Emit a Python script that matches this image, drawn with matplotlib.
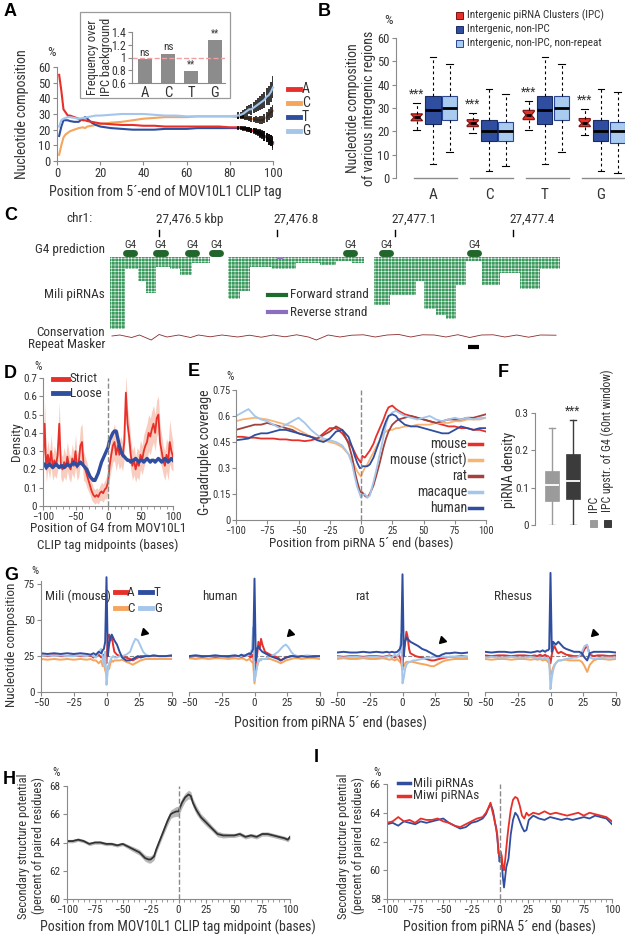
import matplotlib

matplotlib.use("Agg")
import matplotlib.pyplot as plt
import numpy as np
from matplotlib.lines import Line2D
from matplotlib.patches import Rectangle
from matplotlib.ticker import MultipleLocator

plt.rcParams['font.family'] = ['Roboto Condensed', 'Archivo Narrow', 'Liberation Sans', 'DejaVu Sans']
plt.rcParams['hatch.linewidth'] = 0.35

W, H = 625, 935
RED, ORANGE, DBLUE, LBLUE, BROWN = '#e8302a', '#f5a55c', '#2f4ea0', '#a4c6ea', '#a2423c'
GRAY, TXT = '#8a8a8a', '#333333'

# ---------------- data ----------------
# A: nucleotide composition along CLIP tag
a_pos = [1, 2, 3, 4, 5, 6, 8, 10, 12, 13, 14, 16, 18, 20, 25, 30, 35, 40, 45, 50, 55, 60, 65, 70, 75, 80,
         84, 85, 86, 87, 88, 89, 90, 91, 92, 93, 94, 95, 96, 97, 98, 99, 100]
a_A = [55, 45, 33, 31, 29, 29, 28, 27, 26, 26, 25.5, 25, 24.5, 24, 23.5, 23, 23, 22.5, 22.5, 22, 22, 22, 22, 22, 22, 21.5,
       21.5, 21.5, 21, 21, 20.5, 20, 19.5, 19, 18.5, 18, 17, 16.5, 16, 15, 14, 13, 11]
a_C = [4, 10, 15, 17, 18, 19, 20, 21, 21.5, 21, 22, 22.5, 23, 23.5, 24.5, 25, 26, 27, 27.5, 28, 28, 28, 28.5, 28.5, 28.5, 28.5,
       28, 28, 28, 27.5, 27.5, 27, 27, 26.5, 26.5, 26, 26, 26, 27, 28, 29.5, 31, 32]
a_T = [16, 22, 26, 26, 26, 25.5, 25, 25, 27, 28, 27, 24.5, 23, 22, 21, 20.5, 20, 20, 20, 20.5, 20.5, 20.5, 21, 21, 21, 21,
       21, 21, 20.5, 20.5, 20, 20, 19.5, 19.5, 19, 18.5, 18, 17, 16, 15, 14, 13, 12]
a_G = [22, 26, 27, 27.5, 28, 28, 27.5, 27, 27.5, 27.5, 28, 28.5, 29, 29, 29.5, 30, 30, 30, 29.5, 29, 29, 28.5, 28.5, 28.5, 28.5, 28.5,
       29, 29.5, 30, 31, 32, 33, 33, 34, 35, 36, 37, 38, 39, 41, 42, 44, 47]
a_err_G = [2, 2, 2.5, 2.5, 3, 3, 3.5, 3.5, 4, 4, 4.5, 5, 5, 5.5, 6, 6.5, 7]
a_err = [1, 1, 1.2, 1.2, 1.5, 1.5, 1.8, 1.8, 2, 2, 2.5, 2.5, 3, 3, 3.5, 3.5, 4]
inset_labels = ['A', 'C', 'T', 'G']
inset_vals = [0.98, 1.06, 0.79, 1.28]
inset_sig = ['ns', 'ns', '**', '**']

# B: box statistics per nucleotide group
b_groups = ['A', 'C', 'T', 'G']
ipc_lo, ipc_q1, ipc_med, ipc_q3, ipc_hi = [20.5, 19.5, 20.5, 18.5], [24.5, 22, 25, 22], [26, 23.5, 27, 23.5], [27.5, 25, 29, 25.5], [32, 28, 33, 29.5]
ipc_notch = [1.3, 1.0, 1.5, 1.2]
non_lo, non_q1, non_med, non_q3, non_hi = [6, 3, 6, 3], [23, 16, 23, 16], [29, 20, 29, 20], [35, 25, 35, 25], [52, 38, 52, 38]
nrp_lo, nrp_q1, nrp_med, nrp_q3, nrp_hi = [11, 5, 11, 2], [25, 16, 25, 15], [30, 20, 30, 20], [35, 24, 35, 24], [49, 36, 49, 37]
b_legend = ['Intergenic piRNA Clusters (IPC)', 'Intergenic, non-IPC', 'Intergenic, non-IPC, non-repeat']

# C: genome browser track (kbp)
c_ticks = [27476.5, 27476.8, 27477.1, 27477.4]
c_ticklabels = ['27,476.5 kbp', '27,476.8', '27,477.1', '27,477.4']
g4_pos = [27476.426, 27476.503, 27476.584, 27476.645, 27476.986, 27477.077, 27477.301]
read_start = [27476.375, 27476.414, 27476.447, 27476.467, 27476.492, 27476.528, 27476.553, 27476.584,
              27476.675, 27476.706, 27476.731, 27476.787, 27476.848, 27476.909, 27476.950, 27476.991,
              27477.047, 27477.087, 27477.153, 27477.174, 27477.204, 27477.230, 27477.255, 27477.280,
              27477.321, 27477.367, 27477.418, 27477.469]
read_end = [27476.414, 27476.447, 27476.467, 27476.492, 27476.528, 27476.553, 27476.584, 27476.630,
            27476.706, 27476.731, 27476.787, 27476.848, 27476.909, 27476.950, 27476.991, 27477.021,
            27477.087, 27477.153, 27477.174, 27477.204, 27477.230, 27477.255, 27477.280, 27477.321,
            27477.367, 27477.418, 27477.469, 27477.519]
read_count = [36, 6, 12, 18, 5, 6, 9, 3, 21, 17, 5, 6, 3, 4, 2, 3, 24, 19, 12, 26, 29, 31, 14, 2, 14, 8, 16, 6]
cons_pos = [27476.38, 27476.40, 27476.43, 27476.45, 27476.48, 27476.50, 27476.52, 27476.55, 27476.58, 27476.60,
            27476.63, 27476.66, 27476.70, 27476.73, 27476.76, 27476.79, 27476.82, 27476.85, 27476.88, 27476.90,
            27476.93, 27476.96, 27476.99, 27477.02, 27477.05, 27477.08, 27477.11, 27477.14, 27477.17, 27477.20,
            27477.23, 27477.26, 27477.29, 27477.32, 27477.35, 27477.38, 27477.41, 27477.44, 27477.47, 27477.51]
cons_val = [0, 1, -1.5, 1, -4, 1.5, -1, 1, -1.5, 1, -0.8, 1, -1, 0.8, -1.2, 1, -0.8, 1.2, -1, -4,
            1, -1, 0.8, 1.2, -1, 1, 1.5, -1, 1.2, 1, -1, 1.3, -1.5, 1, 1.2, -1, 1, -1.2, 1, 0.8]
repeat_span = (27477.285, 27477.315)

# D: G4 position density
d_pos = np.arange(-100, 100.1, 2.5)
d_strict = [0.25, 0.45, 0.20, 0.28, 0.22, 0.30, 0.21, 0.25, 0.22, 0.28,
            0.45, 0.22, 0.20, 0.24, 0.21, 0.27, 0.22, 0.20, 0.26, 0.22,
            0.30, 0.21, 0.24, 0.33, 0.35, 0.22, 0.20, 0.17, 0.14, 0.11,
            0.08, 0.06, 0.05, 0.06, 0.05, 0.07, 0.08, 0.07, 0.09, 0.10,
            0.13, 0.22, 0.28, 0.33, 0.35, 0.28, 0.33, 0.28, 0.30, 0.27,
            0.35, 0.62, 0.45, 0.38, 0.28, 0.22, 0.25, 0.20, 0.24, 0.22,
            0.28, 0.25, 0.30, 0.33, 0.35, 0.40, 0.38, 0.42, 0.45, 0.40,
            0.48, 0.50, 0.35, 0.30, 0.25, 0.22, 0.28, 0.24, 0.35, 0.30, 0.27]
d_strict_err = [0.08, 0.12, 0.07, 0.08, 0.07, 0.09, 0.07, 0.08, 0.07, 0.09,
                0.12, 0.07, 0.07, 0.08, 0.07, 0.08, 0.07, 0.07, 0.08, 0.07,
                0.09, 0.07, 0.08, 0.10, 0.10, 0.08, 0.07, 0.07, 0.06, 0.05,
                0.05, 0.04, 0.04, 0.04, 0.04, 0.04, 0.05, 0.05, 0.05, 0.06,
                0.06, 0.07, 0.08, 0.09, 0.10, 0.09, 0.09, 0.08, 0.08, 0.08,
                0.09, 0.10, 0.09, 0.09, 0.08, 0.08, 0.08, 0.07, 0.08, 0.08,
                0.08, 0.08, 0.09, 0.09, 0.10, 0.10, 0.10, 0.10, 0.10, 0.10,
                0.10, 0.10, 0.10, 0.09, 0.08, 0.08, 0.09, 0.10, 0.12, 0.10, 0.08]
d_loose = [0.22, 0.23, 0.21, 0.22, 0.23, 0.22, 0.21, 0.22, 0.23, 0.22, 0.21, 0.22, 0.22, 0.21, 0.22, 0.23, 0.22, 0.22,
           0.23, 0.24, 0.23, 0.22, 0.23, 0.24, 0.23,
           0.22, 0.21, 0.20, 0.18, 0.16, 0.15, 0.14, 0.14, 0.16, 0.18, 0.21, 0.24, 0.26, 0.28, 0.30, 0.32, 0.36, 0.38,
           0.40, 0.41, 0.41, 0.37, 0.33, 0.30, 0.28, 0.27, 0.26, 0.25,
           0.25, 0.24, 0.25, 0.25, 0.26, 0.25, 0.24, 0.25, 0.25, 0.24, 0.25, 0.26, 0.25, 0.24, 0.25, 0.25, 0.24, 0.25,
           0.26, 0.25, 0.24, 0.25, 0.26, 0.25, 0.24, 0.25, 0.26, 0.25]

# E: G-quadruplex coverage around piRNA 5' ends
e_pos = [-100, -95, -90, -85, -80, -75, -70, -65, -60, -55, -50, -45, -40, -35, -30, -25, -20, -15, -10,
         -7, -5, -3, -1, 0, 1, 3, 5, 7, 10, 12, 15, 18, 20, 22, 25, 28, 30,
         35, 40, 45, 50, 55, 60, 65, 70, 75, 80, 85, 90, 95, 100]
e_mouse = [.48, .48, .475, .475, .47, .47, .47, .465, .465, .46, .46, .455, .46, .47, .50, .53, .53, .50, .45,
           .42, .39, .36, .34, .33, .37, .36, .38, .40, .44, .48, .53, .58, .62, .65, .66, .64, .63,
           .61, .60, .59, .58, .57, .56, .55, .54, .54, .53, .53, .52, .52, .51]
e_strict = [.57, .58, .585, .59, .585, .58, .57, .56, .55, .54, .52, .50, .48, .47, .46, .45, .44, .42, .38,
            .34, .31, .28, .26, .25, .27, .30, .32, .35, .39, .42, .46, .50, .51, .52, .52, .53, .53,
            .54, .54, .55, .55, .55, .56, .56, .56, .57, .57, .58, .58, .58, .59]
e_rat = [.52, .53, .54, .55, .55, .56, .55, .54, .53, .52, .50, .49, .48, .47, .49, .51, .54, .52, .44,
         .36, .28, .22, .17, .16, .16, .14, .13, .15, .20, .25, .33, .42, .47, .51, .55, .57, .58,
         .59, .60, .59, .58, .57, .56, .57, .58, .58, .58, .59, .59, .60, .61]
e_macaque = [.60, .62, .64, .60, .58, .57, .55, .53, .55, .57, .59, .56, .52, .49, .47, .46, .45, .43, .38,
             .32, .25, .19, .15, .13, .14, .15, .13, .14, .22, .28, .38, .48, .55, .60, .62, .63, .62,
             .60, .59, .58, .59, .60, .58, .57, .58, .59, .58, .59, .58, .59, .59]
e_human = [.46, .465, .47, .49, .50, .50, .51, .52, .52, .51, .50, .49, .48, .46, .45, .47, .51, .52, .48,
           .42, .37, .33, .30, .30, .31, .31, .31, .32, .36, .40, .46, .53, .57, .60, .61, .60, .58,
           .55, .54, .54, .53, .52, .51, .50, .50, .52, .54, .53, .52, .53, .53]
e_names = ['mouse', 'mouse (strict)', 'rat', 'macaque', 'human']

# F: piRNA density boxes
f_labels = ['IPC', 'IPC upstr. of G4 (60nt window)']
f_lo, f_q1, f_med, f_q3, f_hi = [0, 0], [0.065, 0.07], [0.108, 0.118], [0.145, 0.19], [0.26, 0.28]

# G: nucleotide composition around piRNA 5' ends, four species
g_pos = [-50, -45, -40, -35, -30, -25, -20, -15, -12, -10, -8, -6, -4, -3, -2, -1, 0,
         1, 2, 3, 4, 5, 6, 8, 10, 12, 15, 18, 20, 22, 24, 26, 28, 30, 33, 36, 40, 45, 50]
g_titles = ['Mili (mouse)', 'human', 'rat', 'Rhesus']
mouse_A = [25.5, 25, 25.5, 25, 25, 25.5, 25, 25, 25.5, 24, 25, 26, 24, 25, 26, 22, 20,
           38, 40, 36, 39, 33, 28, 26, 25, 25, 24, 23, 22, 23, 24, 25, 25, 25, 25, 25, 25, 25, 25]
mouse_C = [23, 22.5, 23, 22.5, 23, 22.5, 23, 22.5, 23, 22, 22, 20, 22, 18, 20, 15, 12,
           18, 16, 20, 22, 21, 22, 22, 22, 22.5, 21, 20, 19, 20, 21, 22, 22.5, 23, 23, 23, 23, 23, 23]
mouse_T = [27, 26.5, 27, 26.5, 27, 26.5, 27, 26.5, 26, 27, 26, 28, 27, 29, 30, 35, 80,
           25, 33, 38, 40, 38, 36, 33, 28, 24, 22, 22, 23, 24, 25, 24, 24.5, 25, 25, 25.5, 25, 25, 25.5]
mouse_G = [25, 25.5, 25, 25.5, 25, 25, 25.5, 25, 26, 25, 24, 28, 30, 25, 18, 28, 5,
           15, 20, 22, 24, 25, 24, 24, 25, 25, 26, 28, 33, 37, 36, 32, 28, 26, 25, 25.5, 25, 25, 25.5]
human_A = [24.5, 25, 24.5, 25, 24.5, 25, 24.5, 25, 25, 24.5, 25, 26, 25, 24, 25, 26, 15,
           20, 26, 35, 30, 37, 33, 28, 27, 26, 25, 24, 22, 23, 24, 24.5, 25, 25, 24.5, 25, 25, 24.5, 25]
human_C = [23.5, 23, 23.5, 23, 23.5, 23.5, 23, 23.5, 23, 23.5, 23, 22, 23, 22, 21, 20, 6,
           14, 18, 21, 22, 23, 23, 23, 23, 23, 22, 21, 20, 21, 22, 22.5, 23, 23.5, 23.5, 23, 23.5, 23.5, 23]
human_T = [25, 25.5, 25, 25, 25.5, 25, 25, 25.5, 25, 26, 25, 26, 27, 26, 28, 30, 79,
           22, 30, 32, 30, 29, 28, 27, 26, 25, 24, 23, 22, 23, 24, 24.5, 25, 25, 24.5, 25, 24.5, 25, 25]
human_G = [25, 25.5, 25, 25, 25.5, 25, 25, 25.5, 25, 25, 26, 25, 26, 27, 30, 45, 8,
           12, 18, 22, 23, 22, 23, 23, 24, 25, 26, 28, 30, 32, 33, 31, 28, 26, 25, 25, 25.5, 25, 25]
rat_A = [25, 24.5, 25, 25, 24.5, 25, 25, 24.5, 25, 25.5, 25, 24, 25, 26, 24, 22, 18,
         30, 35, 42, 38, 30, 27, 26, 25, 24.5, 24, 23, 22.5, 22, 22, 22.5, 23, 23.5, 24, 24.5, 24.5, 25, 24.5]
rat_C = [23, 23.5, 23, 23, 23.5, 23, 23, 23.5, 23, 22.5, 23, 22, 23, 22, 21, 20, 15,
         18, 20, 21, 21, 21, 21, 21, 20.5, 20, 19.5, 19, 18.5, 18, 18, 19, 20, 21, 22, 22.5, 23, 23, 23]
rat_T = [27.5, 28, 27.5, 27.5, 28, 27.5, 28, 27.5, 28, 27.5, 28, 27.5, 28, 29, 30, 33, 82,
         25, 35, 38, 37, 36, 35, 34, 33, 32, 30, 29, 28, 27, 26, 25, 25, 26, 27, 27, 27.5, 27, 27.5]
rat_G = [24.5, 24, 24.5, 24.5, 24, 24.5, 24.5, 24, 24.5, 25, 24, 26, 25, 26, 28, 40, 6,
         10, 16, 19, 20, 21, 21, 22, 22, 22.5, 23, 23.5, 24, 24, 24.5, 24.5, 24.5, 24.5, 24.5, 24.5, 24.5, 24.5, 24.5]
rhesus_A = [25.5, 25, 25.5, 25.5, 25, 25.5, 25.5, 25, 25.5, 25, 26, 25, 26, 25, 25, 24, 20,
            26, 30, 32, 30, 28, 27, 28, 27, 26, 25.5, 25, 25, 25, 26, 30, 32, 26, 25, 25.5, 25.5, 25, 25.5]
rhesus_C = [23, 22.5, 23, 23, 22.5, 23, 23, 22.5, 23, 22.5, 23, 22, 22.5, 22, 21, 20, 12,
            14, 17, 19, 20, 21, 22, 22, 22.5, 22.5, 22, 22, 22, 22, 21, 18, 14, 19, 22, 23, 23, 22.5, 23]
rhesus_T = [28, 27.5, 28, 28, 27.5, 28, 28, 27.5, 28, 28.5, 28, 29, 28, 29, 29, 30, 83,
            28, 35, 34, 33, 34, 35, 33, 31, 30, 29, 28, 28, 28, 27, 24, 22, 27, 28, 28, 28, 28, 27.5]
rhesus_G = [24, 24.5, 24, 24, 24.5, 24, 24, 24.5, 24, 23.5, 24, 23, 24, 23, 24, 22, 2,
            10, 15, 18, 20, 21, 22, 22, 22.5, 23, 23.5, 24, 24, 25, 28, 32, 33, 24, 23, 23.5, 24, 24, 24]
g_arrow_x = [29, 27, 30, 33]
g_arrow_y = [42, 41, 36, 41]

# H: secondary structure around CLIP tag midpoint
h_pos = [-100, -95, -90, -85, -80, -75, -70, -65, -60, -55, -50, -45, -40, -35, -30,
         -27, -25, -22, -20, -15, -10, -7, -5, -2,
         0, 3, 6, 9, 11, 13, 16, 20,
         25, 30, 35, 40, 45, 50, 55, 60, 65, 70, 75, 80, 85, 90, 95, 98, 100]
h_val = [64.1, 64.1, 64.2, 64.1, 63.9, 64.0, 64.0, 63.9, 63.9, 63.8, 63.9, 63.7, 63.5, 63.3, 62.9,
         62.8, 62.8, 63.0, 63.5, 64.5, 65.5, 66.0, 66.1, 66.2,
         66.2, 66.8, 67.2, 67.4, 67.3, 66.8, 66.3, 65.8,
         65.4, 65.0, 64.6, 64.5, 64.5, 64.5, 64.6, 64.4, 64.5, 64.4, 64.6, 64.6, 64.5, 64.4, 64.3, 64.2, 64.4]
h_err = [0.12, 0.12, 0.12, 0.12, 0.12, 0.12, 0.12, 0.12, 0.12, 0.12, 0.12, 0.15, 0.18, 0.2, 0.22,
         0.25, 0.25, 0.25, 0.25, 0.25, 0.3, 0.3, 0.3, 0.35,
         0.35, 0.35, 0.3, 0.3, 0.3, 0.3, 0.3, 0.25,
         0.25, 0.2, 0.2, 0.18, 0.15, 0.15, 0.15, 0.15, 0.15, 0.15, 0.15, 0.15, 0.15, 0.15, 0.15, 0.15, 0.15]

# I: secondary structure around piRNA 5' ends
i_pos = [-100, -95, -90, -85, -80, -75, -70, -65, -60, -55, -50, -45, -40, -35, -30, -25, -20, -15,
         -12, -10, -8, -6, -5, -4, -3, -2, -1,
         0, 1, 2, 3, 4, 5, 6, 7, 8,
         10, 12, 14, 16, 18, 20, 22, 24, 26,
         30, 35, 40, 45, 50, 55, 60, 65, 70, 75, 80, 85, 90, 95, 100]
i_mili = [63.2, 63.3, 63.1, 63.4, 63.3, 63.2, 63.4, 63.3, 63.4, 63.5, 63.6, 63.3, 63.1, 62.9, 63.0, 63.3, 63.4, 63.6,
          63.9, 64.3, 64.6, 64.2, 63.8, 63.3, 63.0, 62.3, 61.5,
          60.6, 60.9, 60.5, 59.5, 58.8, 59.5, 60.2, 60.5, 60.8,
          62.5, 63.5, 64.0, 63.8, 63.4, 63.0, 62.7, 62.8, 63.5,
          63.8, 63.6, 63.5, 63.7, 63.6, 63.5, 63.6, 63.5, 63.6, 63.7, 63.6, 63.8, 63.7, 63.6, 63.2]
i_miwi = [63.3, 63.4, 63.7, 63.4, 63.5, 63.3, 63.6, 63.5, 63.5, 63.6, 63.4, 63.3, 63.1, 63.0, 63.2, 63.4, 63.6, 63.7,
          64.0, 64.3, 64.7, 64.0, 63.7, 63.3, 62.9, 62.5, 61.2,
          61.0, 61.3, 61.0, 60.2, 60.0, 60.7, 61.5, 62.3, 63.0,
          64.2, 64.9, 65.1, 65.0, 64.5, 63.8, 63.6, 64.0, 63.8,
          64.0, 63.9, 64.1, 63.9, 64.0, 63.9, 63.8, 63.9, 64.0, 63.8, 64.0, 63.9, 63.8, 63.7, 63.4]

# ---------------- helpers ----------------
fig = plt.figure(figsize=(W / 100, H / 100), dpi=100)


def px_ax(l, t, r, b):
    return fig.add_axes([l / W, 1 - b / H, (r - l) / W, (b - t) / H])


def ftext(x, y, s, **kw):
    kw.setdefault('color', TXT)
    kw.setdefault('fontsize', 9)
    kw.setdefault('va', 'center')
    return fig.text(x / W, 1 - y / H, s, **kw)


def fline(x0, x1, y, color, lw=3):
    fig.add_artist(Line2D([x0 / W, x1 / W], [1 - y / H] * 2, color=color, lw=lw,
                          transform=fig.transFigure))


def fsquare(x, y, face, edge, size=7):
    fig.add_artist(Rectangle(((x - size / 2) / W, 1 - (y + size / 2) / H), size / W, size / H,
                             facecolor=face, edgecolor=edge, lw=0.7, transform=fig.transFigure))


def style(ax, left=True, bottom=True):
    for s in ['top', 'right']:
        ax.spines[s].set_visible(False)
    ax.spines['left'].set_visible(left)
    ax.spines['bottom'].set_visible(bottom)
    for s in ['left', 'bottom']:
        ax.spines[s].set_color(GRAY)
        ax.spines[s].set_linewidth(0.8)
    ax.tick_params(colors=GRAY, labelcolor=TXT, labelsize=8, length=3, width=0.8, pad=1.5)
    ax.tick_params(which='minor', length=2, width=0.6, colors=GRAY)
    if not left:
        ax.tick_params(axis='y', left=False, labelleft=False)
    if not bottom:
        ax.tick_params(axis='x', bottom=False, labelbottom=False)
    ax.patch.set_alpha(0)


def letter(x, y, s):
    ftext(x, y, s, fontsize=13, fontweight='bold', color='black', family='Liberation Sans')


# ---------------- A ----------------
letter(4, 12, 'A')
axA = px_ax(57, 67, 273, 161)
style(axA)
axA.set_xlim(0, 100)
axA.set_ylim(0, 60)
for vals, c in [(a_C, ORANGE), (a_T, DBLUE), (a_A, RED)]:
    axA.plot(a_pos, vals, color=c, lw=1.5, clip_on=False)
n = len(a_err)
for vals, err in [(a_A, a_err), (a_C, a_err), (a_T, a_err), (a_G, a_err_G)]:
    axA.errorbar(a_pos[-n:], vals[-n:], yerr=err, fmt='none', ecolor='black', elinewidth=1.1, capsize=0)
axA.plot(a_pos, a_G, color=LBLUE, lw=1.5, clip_on=False)
axA.set_xticks(range(0, 101, 20))
axA.set_yticks(range(0, 61, 10))
axA.tick_params(labelsize=9)
ftext(47, 52, '%', fontsize=9.5)
ftext(22, 114, 'Nucleotide composition', rotation=90, ha='center', fontsize=10)
ftext(165, 192, 'Position from 5\u00b4-end of MOV10L1 CLIP tag', ha='center', fontsize=10)
for lab, c, y in zip(['A', 'C', 'T', 'G'], [RED, ORANGE, DBLUE, LBLUE], [89, 103, 117, 131]):
    fline(288, 300, y, c, lw=3.5)
    ftext(302, y, lab, fontsize=10)

fig.add_artist(Rectangle((80 / W, 1 - 98 / H), 150 / W, 86 / H, fill=False, ec='#9a9a9a', lw=0.9,
                         transform=fig.transFigure))
axIn = px_ax(132, 32, 225, 83)
style(axIn)
axIn.set_xlim(-0.55, 3.45)
axIn.set_ylim(0.6, 1.4)
axIn.bar(range(4), np.array(inset_vals) - 0.6, bottom=0.6, width=0.6, color='#8c8c8c')
axIn.axhline(1, color='#f0a0a0', ls='--', lw=1)
for i, (v, s) in enumerate(zip(inset_vals, inset_sig)):
    axIn.text(i, v + 0.02, s, ha='center', va='bottom', fontsize=8 if s == 'ns' else 7, color=TXT)
axIn.set_yticks([0.6, 0.8, 1, 1.2, 1.4], labels=['0.6', '0.8', '1', '1.2', '1.4'])
axIn.set_xticks(range(4), labels=inset_labels)
axIn.tick_params(axis='x', length=0, labelsize=10.5, pad=2)
axIn.tick_params(axis='y', labelsize=8.5)
ftext(99, 57, 'Frequency over\nIPC background', rotation=90, ha='center', fontsize=9, linespacing=1.1)

# ---------------- B ----------------
letter(318, 12, 'B')
axB = px_ax(396, 38, 625, 178)
style(axB, bottom=False)
axB.set_xlim(0.34, 4.43)
axB.set_ylim(0, 60)
groups = np.arange(1, 5)
regions = [
    (ipc_lo, ipc_q1, ipc_med, ipc_q3, ipc_hi, -0.29, 0.2, RED, '#7a1212', True),
    (non_lo, non_q1, non_med, non_q3, non_hi, 0.0, 0.27, DBLUE, '#1b2c62', False),
    (nrp_lo, nrp_q1, nrp_med, nrp_q3, nrp_hi, 0.3, 0.27, '#a9cbef', '#2a4690', False),
]
for lo, q1, med, q3, hi, off, w, face, edge, notch in regions:
    stats = []
    for k in range(4):
        d = dict(med=med[k], q1=q1[k], q3=q3[k], whislo=lo[k], whishi=hi[k], fliers=[])
        if notch:
            d['cilo'] = med[k] - ipc_notch[k]
            d['cihi'] = med[k] + ipc_notch[k]
        stats.append(d)
    axB.bxp(stats, positions=groups + off, widths=w, patch_artist=True, shownotches=notch,
            showfliers=False, manage_ticks=False, capwidths=0.12,
            boxprops=dict(facecolor=face, edgecolor=edge, lw=0.8),
            medianprops=dict(color='black', lw=2),
            whiskerprops=dict(color='black', lw=0.8, ls=(0, (2.5, 2.5))),
            capprops=dict(color='black', lw=0.8))
for k in range(4):
    axB.text(groups[k] - 0.29, ipc_hi[k] + 1, '***', ha='center', va='bottom', fontsize=8.5, color=TXT)
    axB.plot([groups[k] - 0.34, groups[k] + 0.43], [0, 0], color=GRAY, lw=1, clip_on=False)
axB.set_xticks(groups, labels=b_groups)
axB.tick_params(axis='x', bottom=False, labelbottom=True, length=0, pad=7, labelsize=11)
axB.set_yticks(range(0, 61, 10))
axB.tick_params(axis='y', labelsize=9)
ftext(384, 20, '%', fontsize=9.5)
ftext(361, 108, 'Nucleotide composition\nof various intergenic regions', rotation=90, ha='center',
      fontsize=10, linespacing=1.15)
for lab, face, edge, y in zip(b_legend, [RED, DBLUE, '#a9cbef'], ['#7a1212', '#1b2c62', '#2a4690'], [15, 29, 43]):
    fsquare(459, y, face, edge)
    ftext(467, y, lab, fontsize=8)

# ---------------- C ----------------
letter(4, 215, 'C')
axC = px_ax(108, 200, 560, 352)
axC.set_xlim(27476.37, 27477.52)
axC.set_ylim(352, 200)
axC.axis('off')
ftext(66, 219, 'chr1:', fontsize=9.5)
for t, lab in zip(c_ticks, c_ticklabels):
    axC.plot([t, t], [230, 236], color='black', lw=1)
    axC.text(t - 0.008, 219, lab, ha='left', va='center', fontsize=9.5, color=TXT)
for p in g4_pos:
    axC.plot([p - 0.011, p + 0.011], [253, 253], color='#22662c', lw=5, solid_capstyle='round')
    axC.text(p, 245, 'G4', ha='center', va='center', fontsize=8, color=TXT)
axC.bar(read_start, np.array(read_count) * 2.0, width=np.array(read_end) - np.array(read_start),
        bottom=257, align='edge', color='#3b9a5d', edgecolor='white', hatch='+++++', lw=0)
axC.bar([27476.80], [2], width=0.015, bottom=257, align='edge', color='#9a7ac8', lw=0)
axC.plot(cons_pos, 336 - np.array(cons_val), color='#8b2a2a', lw=0.6)
axC.plot(list(repeat_span), [347, 347], color='black', lw=3, solid_capstyle='butt')
for lab, y in [('G4 prediction', 250), ('Mili piRNAs', 295), ('Conservation', 333), ('Repeat Masker', 345)]:
    ftext(105, y, lab, ha='right', fontsize=9.5)
fline(268, 286, 295, '#1e6b30', lw=3)
ftext(290, 295, 'Forward strand', fontsize=9.5)
fline(268, 286, 312, '#8a6fc0', lw=3)
ftext(290, 312, 'Reverse strand', fontsize=9.5)

# ---------------- D ----------------
letter(4, 373, 'D')
axD = px_ax(43, 378, 173, 506)
style(axD)
axD.set_xlim(-100, 100)
axD.set_ylim(0, 0.7)
ds = np.array(d_strict)
de = np.array(d_strict_err)
axD.fill_between(d_pos, ds - de, ds + de, color='#f8cdbf', lw=0)
axD.plot(d_pos, d_strict, color=RED, lw=1.3)
axD.plot(d_pos, d_loose, color=DBLUE, lw=2.4)
axD.axvline(0, color=GRAY, ls='--', lw=1)
axD.set_xticks([-100, -50, 0, 50, 100])
axD.xaxis.set_minor_locator(MultipleLocator(10))
axD.set_yticks(np.arange(0, 0.71, 0.1), labels=['0', '0.1', '0.2', '0.3', '0.4', '0.5', '0.6', '0.7'])
axD.tick_params(labelsize=8)
ftext(34, 367, '%', fontsize=8.5)
ftext(17, 442, 'Density', rotation=90, ha='center', fontsize=9.5)
ftext(108, 537, 'Position of G4 from MOV10L1\nCLIP tag midpoints (bases)', ha='center', fontsize=9.5,
      linespacing=1.35)
fline(53, 68, 379, RED, lw=3.5)
ftext(70, 379, 'Strict', fontsize=9.5)
fline(53, 68, 393, DBLUE, lw=3.5)
ftext(70, 393, 'Loose', fontsize=9.5)

# ---------------- E ----------------
letter(188, 371, 'E')
axE = px_ax(236, 390, 486, 520)
style(axE)
axE.set_xlim(-100, 100)
axE.set_ylim(0, 0.75)
e_series = [e_mouse, e_strict, e_rat, e_macaque, e_human]
e_colors = [RED, '#f7b477', BROWN, LBLUE, DBLUE]
for vals, c in zip(e_series, e_colors):
    axE.plot(e_pos, vals, color=c, lw=1.3)
axE.axvline(0, color=GRAY, ls='--', lw=1)
axE.set_xticks(range(-100, 101, 25))
axE.set_yticks([0, 0.15, 0.3, 0.45, 0.6, 0.75], labels=['0', '0.15', '0.3', '0.45', '0.6', '0.75'])
axE.tick_params(labelsize=7.5, pad=1)
for name, c, y in zip(e_names, e_colors, [444, 460, 476, 492, 508]):
    ftext(467, y, name, ha='right', fontsize=10)
    fline(469, 482, y, c, lw=2.5)
ftext(226, 377, '%', fontsize=8.5)
ftext(205, 452, 'G-quadruplex coverage', rotation=90, ha='center', fontsize=10)
ftext(361, 543, 'Position from piRNA 5\u00b4 end (bases)', ha='center', fontsize=9.5)

# ---------------- F ----------------
letter(498, 372, 'F')
axF = px_ax(535, 413, 590, 525)
style(axF, bottom=False)
axF.set_xlim(0.19, 2.81)
axF.set_ylim(0, 0.3)
for k, face in enumerate(['#9b9b9b', '#3b3b3b']):
    st = [dict(med=f_med[k], q1=f_q1[k], q3=f_q3[k], whislo=f_lo[k], whishi=f_hi[k], fliers=[])]
    axF.bxp(st, positions=[k + 1], widths=0.67, patch_artist=True, showfliers=False, manage_ticks=False,
            capwidths=0.3,
            boxprops=dict(facecolor=face, edgecolor=face, lw=0.5),
            medianprops=dict(color='white', lw=1.3),
            whiskerprops=dict(color=face, lw=1), capprops=dict(color=face, lw=1))
axF.text(2, f_hi[1] + 0.008, '***', ha='center', va='bottom', fontsize=8.5, color=TXT)
axF.set_yticks([0, 0.1, 0.2, 0.3], labels=['0', '0.1', '0.2', '0.3'])
ftext(509, 470, 'piRNA density', rotation=90, ha='center', fontsize=10)
for lab, x, c in zip(f_labels, [593, 607], ['#9b9b9b', '#3b3b3b']):
    ftext(x, 512, lab, rotation=90, ha='center', va='bottom', fontsize=8.5)
    fsquare(x, 523, c, c)

# ---------------- G ----------------
letter(4, 575, 'G')
g_sets = [(mouse_A, mouse_C, mouse_T, mouse_G), (human_A, human_C, human_T, human_G),
          (rat_A, rat_C, rat_T, rat_G), (rhesus_A, rhesus_C, rhesus_T, rhesus_G)]
for i, (sA, sC, sT, sG) in enumerate(g_sets):
    x0 = [41, 189, 337, 485][i]
    ax = px_ax(x0, 570, x0 + 131, 692)
    style(ax, left=(i == 0))
    ax.set_xlim(-50, 50)
    ax.set_ylim(0, 85)
    ax.axhline(25, color=GRAY, ls='--', lw=0.8)
    for vals, c in [(sC, ORANGE), (sA, RED), (sG, LBLUE), (sT, DBLUE)]:
        ax.plot(g_pos, vals, color=c, lw=1.4)
    ax.plot(g_arrow_x[i], g_arrow_y[i], marker=(3, 0, 135), ms=6, color='black', ls='none')
    ax.set_xticks([-50, -25, 0, 25, 50])
    ax.spines['bottom'].set_bounds(-50, 50)
    if i == 0:
        ax.set_yticks([0, 25, 50, 75])
        ax.spines['left'].set_bounds(0, 77)
for t, x, ha in zip(g_titles, [45, 220, 362, 513], ['left', 'center', 'center', 'center']):
    ftext(x, 596, t, ha=ha, fontsize=9.5)
fline(115, 126, 592, RED, lw=3.5)
ftext(127, 592, 'A', fontsize=9.5)
fline(115, 126, 608, ORANGE, lw=3.5)
ftext(127, 608, 'C', fontsize=9.5)
fline(140, 152, 592, DBLUE, lw=3.5)
ftext(154, 592, 'T', fontsize=9.5)
fline(140, 152, 608, LBLUE, lw=3.5)
ftext(154, 608, 'G', fontsize=9.5)
ftext(31, 571, '%', fontsize=8)
ftext(12, 645, 'Nucleotide composition', rotation=90, ha='center', fontsize=9.5)
ftext(330, 723, 'Position from piRNA 5\u00b4 end (bases)', ha='center', fontsize=10)

# ---------------- H ----------------
letter(3, 780, 'H')
axH = px_ax(67, 786, 290, 899)
style(axH)
axH.set_xlim(-100, 100)
axH.set_ylim(60, 68)
hv = np.array(h_val)
he = np.array(h_err)
axH.fill_between(h_pos, hv - he, hv + he, color='#b8b8b8', lw=0)
axH.plot(h_pos, h_val, color='#333333', lw=1.3)
axH.axvline(0, color=GRAY, ls='--', lw=1)
axH.set_xticks(range(-100, 101, 25))
axH.xaxis.set_minor_locator(MultipleLocator(5))
axH.set_yticks(range(60, 69, 2))
ftext(52, 773, '%', fontsize=8.5)
ftext(31, 846, 'Secondary structure potential\n(percent of paired residues)', rotation=90, ha='center',
      fontsize=9, linespacing=1.1)
ftext(178, 927, 'Position from MOV10L1 CLIP tag midpoint (bases)', ha='center', fontsize=10)

# ---------------- I ----------------
letter(314, 758, 'I')
axI = px_ax(387, 784, 612, 899)
style(axI)
axI.set_xlim(-100, 100)
axI.set_ylim(58, 66)
axI.plot(i_pos, i_mili, color=DBLUE, lw=1.3)
axI.plot(i_pos, i_miwi, color=RED, lw=1.3)
axI.axvline(0, color=GRAY, ls='--', lw=1)
axI.set_xticks(range(-100, 101, 25))
axI.xaxis.set_minor_locator(MultipleLocator(5))
axI.set_yticks(range(58, 67, 2))
fline(398, 410, 783, DBLUE, lw=2.5)
ftext(413, 783, 'Mili piRNAs', fontsize=9.5)
fline(398, 410, 796, RED, lw=2.5)
ftext(413, 796, 'Miwi piRNAs', fontsize=9.5)
ftext(373, 772, '%', fontsize=8.5)
ftext(351, 846, 'Secondary structure potential\n(percent of paired residues)', rotation=90, ha='center',
      fontsize=9, linespacing=1.1)
ftext(499, 927, 'Position from piRNA 5\u00b4 end (bases)', ha='center', fontsize=10)

fig.savefig('out.png', dpi=100)
